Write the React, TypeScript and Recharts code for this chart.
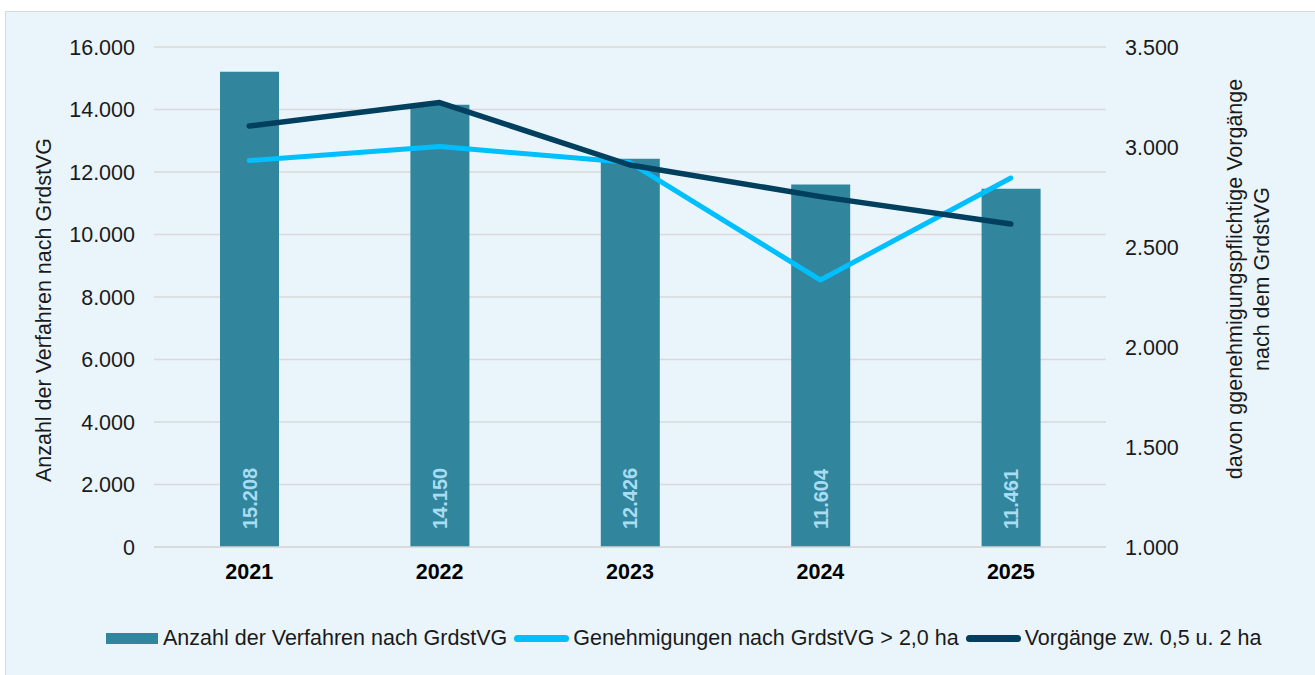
import React from 'react';
import {
  ComposedChart, Bar, Line, XAxis, YAxis, CartesianGrid, LabelList, Legend
} from 'recharts';

// Values
const years = ['2021', '2022', '2023', '2024', '2025'];
const verfahren = [15208, 14150, 12426, 11604, 11461];
const genehmigungen = [2932, 3003, 2922, 2335, 2845];
const vorgaenge = [3105, 3222, 2910, 2752, 2615];

const leftTicks = [0, 2000, 4000, 6000, 8000, 10000, 12000, 14000, 16000];
const rightTicks = [1000, 1500, 2000, 2500, 3000, 3500];

const data = years.map((year, i) => ({
  year,
  verfahren: verfahren[i],
  genehmigungen: genehmigungen[i],
  vorgaenge: vorgaenge[i],
}));

const FONT = '"Liberation Sans", Arial, sans-serif';
const BAR_COLOR = '#31859C';
const LIGHT_LINE = '#00BFFF';
const DARK_LINE = '#003F5E';
const GRID = '#D9D9D9';
const FS = 21.5;

// German thousands separator
const fmt = (n: number) => String(n).replace(/\B(?=(\d{3})+(?!\d))/g, '.');

const tickStyle = { fill: '#1a1a1a', fontSize: FS, fontFamily: FONT };

const legendItems = [
  { label: 'Anzahl der Verfahren nach GrdstVG', color: BAR_COLOR, kind: 'bar' },
  { label: 'Genehmigungen nach GrdstVG > 2,0 ha', color: LIGHT_LINE, kind: 'line' },
  { label: 'Vorgänge zw. 0,5 u. 2 ha', color: DARK_LINE, kind: 'line' },
];

const renderLegend = () => (
  <div style={{ display: 'flex', alignItems: 'center', fontFamily: FONT, fontSize: FS, color: '#1a1a1a', whiteSpace: 'nowrap' }}>
    {legendItems.map((item) => (
      <div key={item.label} style={{ display: 'flex', alignItems: 'center', marginRight: 7 }}>
        {item.kind === 'bar' ? (
          <span style={{ display: 'inline-block', width: 52, height: 11, background: item.color, marginRight: 5 }} />
        ) : (
          <span style={{ display: 'inline-block', width: 55, height: 7, borderRadius: 4, background: item.color, marginRight: 4 }} />
        )}
        <span>{item.label}</span>
      </div>
    ))}
  </div>
);

const BarValue = (props: any) => {
  const { x, y, width, height, value } = props;
  const cx = x + width / 2;
  const by = y + height - 18;
  return (
    <text
      x={cx}
      y={by}
      transform={`rotate(-90, ${cx}, ${by})`}
      textAnchor="start"
      dominantBaseline="central"
      fill="#A8DCF2"
      fontSize={20}
      fontWeight="bold"
      fontFamily={FONT}
    >
      {fmt(value)}
    </text>
  );
};

const LeftTitle = (props: any) => {
  const { viewBox } = props;
  const cx = 44;
  const cy = viewBox.y + viewBox.height / 2 + 13;
  return (
    <text x={cx} y={cy} transform={`rotate(-90, ${cx}, ${cy})`} textAnchor="middle" dominantBaseline="central"
      fill="#1a1a1a" fontSize={FS} fontFamily={FONT}>
      Anzahl der Verfahren nach GrdstVG
    </text>
  );
};

const RightTitle = (props: any) => {
  const { viewBox } = props;
  const cx = 1235;
  const cy = viewBox.y + viewBox.height / 2 - 18;
  return (
    <text x={cx} y={cy} transform={`rotate(-90, ${cx}, ${cy})`} textAnchor="middle" dominantBaseline="central"
      fill="#1a1a1a" fontSize={FS} fontFamily={FONT}>
      <tspan x={cx} dy={0}>davon ggenehmigungspflichtige Vorgänge</tspan>
      <tspan x={cx} dy={27}>nach dem GrdstVG</tspan>
    </text>
  );
};

export default function App() {
  return (
    <div style={{ position: 'absolute', left: 0, top: 0, width: 1315, height: 675, background: '#fff', overflow: 'hidden' }}>
      <div style={{ position: 'absolute', left: 5, top: 11, width: 1310, height: 670, background: '#EAF5FB', border: `1px solid ${GRID}` }} />
      <div style={{ position: 'absolute', left: 0, top: 0 }}>
        <ComposedChart width={1315} height={675} data={data} margin={{ top: 47, right: 0, left: 0, bottom: 88 }} barCategoryGap={0}>
          <CartesianGrid yAxisId="left" vertical={false} stroke={GRID} strokeWidth={1.5} />
          <XAxis
            dataKey="year"
            height={40}
            tickLine={false}
            tickSize={0}
            tickMargin={17}
            axisLine={{ stroke: GRID, strokeWidth: 1.5 }}
            tick={{ ...tickStyle, fontWeight: 'bold', fill: '#000' }}
          />
          <YAxis
            yAxisId="left"
            width={154}
            domain={[0, 16000]}
            ticks={leftTicks}
            tickFormatter={fmt}
            axisLine={false}
            tickLine={false}
            tickSize={0}
            tickMargin={19}
            tick={tickStyle}
            label={<LeftTitle />}
          />
          <YAxis
            yAxisId="right"
            orientation="right"
            width={209}
            domain={[1000, 3500]}
            ticks={rightTicks}
            tickFormatter={fmt}
            axisLine={false}
            tickLine={false}
            tickSize={0}
            tickMargin={19}
            tick={{ ...tickStyle, textAnchor: 'start' }}
            label={<RightTitle />}
          />
          <Bar yAxisId="left" dataKey="verfahren" name="Anzahl der Verfahren nach GrdstVG" fill={BAR_COLOR} barSize={59} isAnimationActive={false}>
            <LabelList dataKey="verfahren" content={<BarValue />} />
          </Bar>
          <Line yAxisId="right" type="linear" dataKey="genehmigungen" name="Genehmigungen nach GrdstVG > 2,0 ha"
            stroke={LIGHT_LINE} strokeWidth={5} dot={false} strokeLinecap="round" strokeLinejoin="round" isAnimationActive={false} />
          <Line yAxisId="right" type="linear" dataKey="vorgaenge" name="Vorgänge zw. 0,5 u. 2 ha"
            stroke={DARK_LINE} strokeWidth={5.5} dot={false} strokeLinecap="round" strokeLinejoin="round" isAnimationActive={false} />
          <Legend
            layout="horizontal"
            verticalAlign="middle"
            align="center"
            content={renderLegend}
            wrapperStyle={{ top: 626, left: 106, width: 'auto', height: 'auto' }}
          />
        </ComposedChart>
      </div>
    </div>
  );
}
